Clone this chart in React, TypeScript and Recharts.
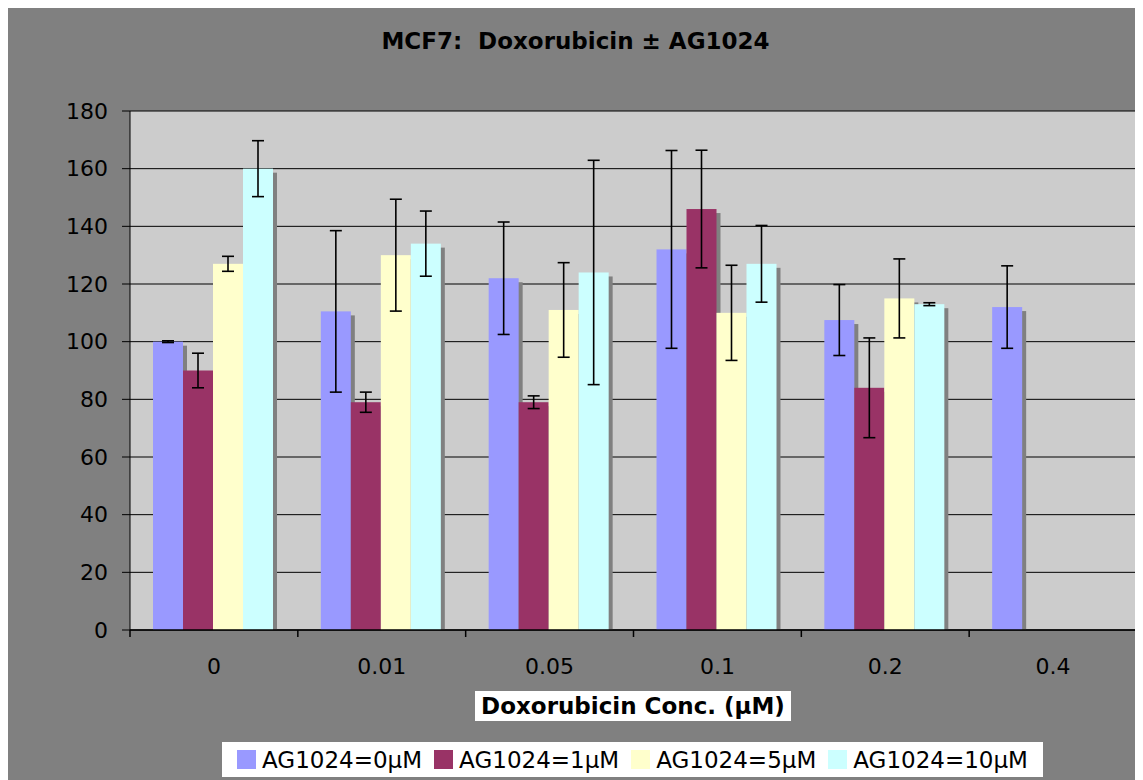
import React from 'react';
import { BarChart, Bar, XAxis, YAxis, CartesianGrid, ErrorBar, Legend } from 'recharts';

const concentrations = ['0', '0.01', '0.05', '0.1', '0.2', '0.4'];
const ag0 = [100, 110.5, 122, 132, 107.5, 112];
const ag0Err = [0.3, 28, 19.5, 34.3, 12.3, 14.3];
const ag1 = [90, 79, 79, 146, 84, null];
const ag1Err = [6, 3.5, 2.2, 20.4, 17.3, null];
const ag5 = [127, 130, 111, 110, 115, null];
const ag5Err = [2.6, 19.4, 16.4, 16.5, 13.7, null];
const ag10 = [160, 134, 124, 127, 113, null];
const ag10Err = [9.7, 11.3, 38.9, 13.3, 0.5, null];
const yTicks = [0, 20, 40, 60, 80, 100, 120, 140, 160, 180];

const series = [
  { key: 'ag0', err: 'ag0Err', name: 'AG1024=0µM', color: '#9999ff' },
  { key: 'ag1', err: 'ag1Err', name: 'AG1024=1µM', color: '#993366' },
  { key: 'ag5', err: 'ag5Err', name: 'AG1024=5µM', color: '#ffffcc' },
  { key: 'ag10', err: 'ag10Err', name: 'AG1024=10µM', color: '#ccffff' },
];

const data = concentrations.map((c, i) => ({
  conc: c,
  ag0: ag0[i], ag0Err: ag0Err[i],
  ag1: ag1[i], ag1Err: ag1Err[i],
  ag5: ag5[i], ag5Err: ag5Err[i],
  ag10: ag10[i], ag10Err: ag10Err[i],
}));

const FONT = '"DejaVu Sans", Verdana, sans-serif';
const TICK_SIZE = 8;
const TICK_MARGIN = 20;

// bar with a drop shadow to the lower right, like the old Excel look
const ShadowBar = (props: any) => {
  const { x, y, width, height, fill } = props;
  if (!height || height <= 0) return null;
  return (
    <g>
      <rect x={x + 4} y={y + 4} width={width} height={Math.max(height - 4, 0)} fill="#808080" />
      <rect x={x} y={y} width={width} height={height} fill={fill} />
    </g>
  );
};

// category label plus tick marks on the category boundaries
const CatTick = (props: any) => {
  const { x, y, payload, index } = props;
  const axisY = y - TICK_SIZE - TICK_MARGIN;
  const half = payload.offset || 0;
  return (
    <g>
      <line x1={x - half} x2={x - half} y1={axisY} y2={axisY + 7} stroke="#000" strokeWidth={1.5} />
      {index === concentrations.length - 1 && (
        <line x1={x + half} x2={x + half} y1={axisY} y2={axisY + 7} stroke="#000" strokeWidth={1.5} />
      )}
      <text x={x} y={y} dy="0.71em" textAnchor="middle" fill="#000" fontSize={22} fontFamily={FONT}>
        {payload.value}
      </text>
    </g>
  );
};

const LegendBox = () => (
  <div style={{
    width: 821, height: 35, background: '#fff', display: 'flex', alignItems: 'center',
    justifyContent: 'center', boxSizing: 'border-box', fontFamily: FONT, fontSize: 23, color: '#000',
  }}>
    {series.map((s, i) => (
      <div key={s.key} style={{ display: 'flex', alignItems: 'center', marginLeft: i === 0 ? 0 : 12 }}>
        <span style={{ width: 19, height: 19, background: s.color, marginRight: 6, display: 'inline-block' }} />
        <span>{s.name}</span>
      </div>
    ))}
  </div>
);

export default function App() {
  return (
    <div style={{ position: 'relative', width: 1135, height: 772, background: '#808080' }}>
      <div style={{
        position: 'absolute', left: 0, top: 22, width: 1135, textAlign: 'center',
        fontFamily: FONT, fontWeight: 'bold', fontSize: 23, lineHeight: '23px', color: '#000',
      }}>
        MCF7:&nbsp; Doxorubicin ± AG1024
      </div>
      <BarChart width={1135} height={772} data={data}
        margin={{ top: 103, right: 6, left: 0, bottom: 75 }}
        barCategoryGap={23} barGap={0}>
        <CartesianGrid horizontal vertical={false} stroke="#000" fill="#cccccc" fillOpacity={1} />
        <XAxis dataKey="conc" height={40} interval={0}
          axisLine={{ stroke: '#000', strokeWidth: 1.5 }} tickLine={false}
          tickSize={TICK_SIZE} tickMargin={TICK_MARGIN} tick={<CatTick />} />
        <YAxis domain={[0, 180]} ticks={yTicks} width={122} interval={0}
          axisLine={{ stroke: '#000' }} tickLine={{ stroke: '#000' }} tickSize={8} tickMargin={14}
          tick={{ fill: '#000', fontSize: 22, fontFamily: FONT }} />
        {series.map(s => (
          <Bar key={s.key} dataKey={s.key} name={s.name} fill={s.color}
            shape={ShadowBar} isAnimationActive={false}>
            <ErrorBar dataKey={s.err} direction="y" width={6} stroke="#000" strokeWidth={1.6} />
          </Bar>
        ))}
        <Legend content={() => <LegendBox />}
          wrapperStyle={{ position: 'absolute', left: 214, top: 734, width: 821, height: 35 }} />
      </BarChart>
      <div style={{
        position: 'absolute', left: 467, top: 683, width: 316, height: 30, background: '#fff',
        display: 'flex', alignItems: 'center', justifyContent: 'center',
        fontFamily: FONT, fontWeight: 'bold', fontSize: 23, color: '#000', whiteSpace: 'nowrap',
      }}>
        Doxorubicin Conc. (µM)
      </div>
    </div>
  );
}
